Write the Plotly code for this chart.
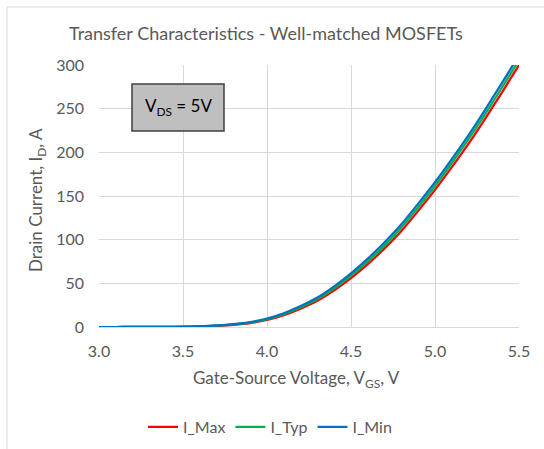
import plotly.graph_objects as go

vgs = [3.0, 3.1, 3.2, 3.3, 3.4, 3.5, 3.6, 3.7, 3.8, 3.9, 4.0, 4.1, 4.2, 4.3, 4.4,
       4.5, 4.6, 4.7, 4.8, 4.9, 5.0, 5.1, 5.2, 5.3, 5.4, 5.5]
i_max = [0, 0, 0.01, 0.03, 0.1, 0.25, 0.6, 1.3, 2.5, 4.5, 8, 13.5, 21, 30, 42,
         56, 72, 90, 110, 133, 157, 183, 210, 239, 269, 300]
i_typ = [0, 0, 0.01, 0.04, 0.12, 0.3, 0.7, 1.5, 2.9, 5.0, 8.9, 14.7, 22.6, 32, 44.3,
         58.8, 75.2, 93.5, 114, 137.2, 161.5, 187.8, 215, 244.2, 274.5, 305.5]
i_min = [0, 0, 0.01, 0.05, 0.15, 0.35, 0.8, 1.8, 3.3, 5.6, 9.7, 15.8, 24, 33.8, 46.6,
         61.5, 78.3, 97, 117.7, 141.3, 165.8, 192.3, 219.8, 249.3, 279.8, 311]

series = [("I_Max", i_max, "#ff0000"), ("I_Typ", i_typ, "#00b050"), ("I_Min", i_min, "#0070c0")]

FONT = "Lato, 'Liberation Sans', sans-serif"
GREY = "#595959"

fig = go.Figure()
for name, vals, col in series:
    fig.add_trace(go.Scatter(x=vgs, y=vals, name=name, mode="lines",
                             line=dict(color=col, width=2.25, shape="spline", smoothing=0.6)))

L, R, T, B = 99, 25, 65, 122
W, H = 544, 449
pw, ph = W - L - R, H - T - B

def px(x):
    return (x - L) / pw

def py(y):
    return (H - B - y) / ph

fig.update_layout(
    width=W, height=H, margin=dict(l=L, r=R, t=T, b=B, autoexpand=False),
    paper_bgcolor="white", plot_bgcolor="white",
    font=dict(family=FONT, color=GREY, size=16),
    showlegend=True,
    legend=dict(orientation="h", x=px(270), xanchor="center", y=py(427), yanchor="middle",
                font=dict(size=16, color=GREY), itemwidth=30, tracegroupgap=0),
    xaxis=dict(range=[3.0, 5.5], dtick=0.5, tickformat=".1f", showgrid=True,
               gridcolor="#d9d9d9", gridwidth=1, zeroline=False, showline=True,
               linecolor="#d9d9d9", linewidth=1, ticks="", ticklabelstandoff=10,
               tickfont=dict(size=16, color=GREY), automargin=False),
    yaxis=dict(range=[0, 300], dtick=50, showgrid=True, gridcolor="#d9d9d9", gridwidth=1,
               zeroline=False, showline=False, ticks="", ticklabelstandoff=14,
               tickfont=dict(size=16, color=GREY), automargin=False),
    shapes=[
        dict(type="rect", xref="paper", yref="paper", x0=px(132), x1=px(224), y0=py(131), y1=py(84),
             fillcolor="#bfbfbf", line=dict(color="#404040", width=1.5), layer="above"),
        dict(type="line", xref="paper", yref="paper", x0=px(7), x1=px(7), y0=py(449), y1=py(7),
             line=dict(color="#d9d9d9", width=1)),
        dict(type="line", xref="paper", yref="paper", x0=px(7), x1=px(544), y0=py(7), y1=py(7),
             line=dict(color="#d9d9d9", width=1)),
    ],
    annotations=[
        dict(text="Transfer Characteristics - Well-matched MOSFETs", xref="paper", yref="paper",
             x=px(266), y=py(33), xanchor="center", yanchor="middle", showarrow=False,
             font=dict(size=18, color=GREY)),
        dict(text="Gate-Source Voltage, V<sub>GS</sub>, V", xref="paper", yref="paper",
             x=px(296), y=py(379), xanchor="center", yanchor="middle", showarrow=False,
             font=dict(size=17, color=GREY)),
        dict(text="Drain Current, I<sub>D</sub>, A", xref="paper", yref="paper",
             x=px(37), y=py(200), xanchor="center", yanchor="middle", showarrow=False,
             textangle=-90, font=dict(size=17, color=GREY)),
        dict(text="V<sub>DS</sub> = 5V", xref="paper", yref="paper",
             x=px(178), y=py(107), xanchor="center", yanchor="middle", showarrow=False,
             font=dict(size=17, color="#000000")),
    ],
)

fig.write_html("out.html")
